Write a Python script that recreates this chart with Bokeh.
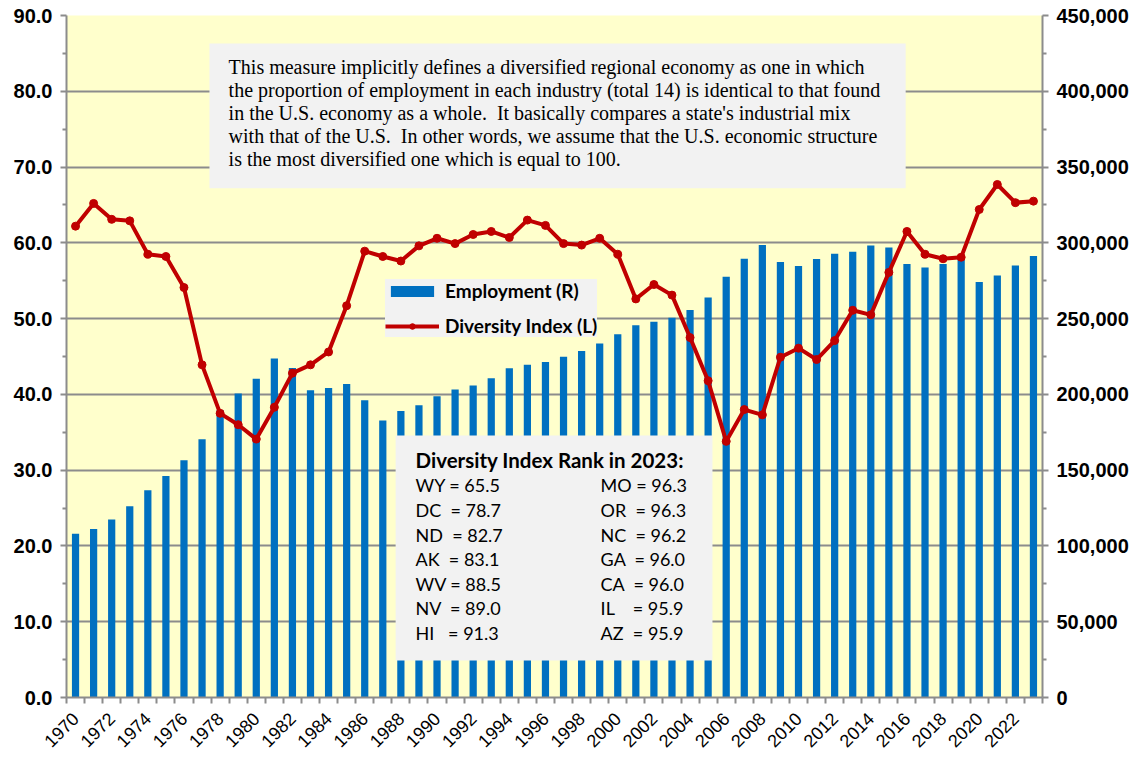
import math
from bokeh.plotting import figure
from bokeh.models import (Range1d, LinearAxis, FixedTicker, NumeralTickFormatter,
                          BoxAnnotation, Label, Legend, LegendItem, ColumnDataSource)
from bokeh.embed import file_html
from bokeh.resources import INLINE

# ---------------- data ----------------
years = list(range(1970, 2024))
employment = [108100, 111200, 117400, 126200, 136800, 146200, 156600, 170400, 189600, 200600,
              210400, 223600, 217400, 202700, 204200, 206800, 196200, 182800, 189100, 192900,
              198800, 203200, 205900, 210700, 217300, 219500, 221300, 224800, 228700, 233600,
              239600, 245700, 247900, 250500, 255600, 264000, 277600, 289500, 298500, 287300,
              284700, 289300, 292800, 294100, 298300, 297000, 286000, 283800, 286000, 290800,
              274100, 278500, 285100, 291300]
diversity = [62.2, 65.2, 63.1, 62.9, 58.5, 58.2, 54.1, 43.9, 37.5, 36.0,
             34.1, 38.3, 42.8, 43.9, 45.6, 51.7, 58.9, 58.2, 57.6, 59.6,
             60.6, 59.9, 61.1, 61.5, 60.7, 63.0, 62.3, 59.9, 59.7, 60.6,
             58.5, 52.6, 54.5, 53.1, 47.5, 41.8, 33.8, 38.0, 37.3, 44.9,
             46.1, 44.6, 47.1, 51.1, 50.5, 56.1, 61.5, 58.5, 57.9, 58.1,
             64.4, 67.7, 65.3, 65.5]
left_ticks = [0, 10, 20, 30, 40, 50, 60, 70, 80, 90]
right_ticks = [0, 50000, 100000, 150000, 200000, 250000, 300000, 350000, 400000, 450000]
label_years = list(range(1970, 2023, 2))

NB = "\u00a0"
note_lines = [
    "This measure implicitly defines a diversified regional economy as one in which",
    "the proportion of employment in each industry (total 14) is identical to that found",
    "in the U.S. economy as a whole." + NB + " It basically compares a state's industrial mix",
    "with that of the U.S." + NB + " In other words, we assume that the U.S. economic structure",
    "is the most diversified one which is equal to 100.",
]
rank_title = "Diversity Index Rank in 2023:"
rank_left_states = ["WY", "DC", "ND", "AK", "WV", "NV", "HI"]
rank_left_values = ["65.5", "78.7", "82.7", "83.1", "88.5", "89.0", "91.3"]
rank_right_states = ["MO", "OR", "NC", "GA", "CA", "IL", "AZ"]
rank_right_values = ["96.3", "96.3", "96.2", "96.0", "96.0", "95.9", "95.9"]
left_pad = [1, 2, 2, 2, 1, 2, 3]
right_pad = [1, 2, 2, 2, 2, 4, 2]

# ---------------- styling ----------------
GRID = "#8C8C8C"
BAR = "#0070C0"
LINE = "#C00000"
BOXBG = "#F2F2F2"

p = figure(width=1140, height=757, output_backend="svg", toolbar_location=None,
           x_range=Range1d(1969.5, 2023.5), y_range=Range1d(0, 90),
           min_border_left=66, min_border_right=98, min_border_top=15, min_border_bottom=60)
p.background_fill_color = "#FFFFCC"
p.border_fill_color = "white"
p.outline_line_color = None
p.extra_y_ranges = {"emp": Range1d(0, 450000)}

src = ColumnDataSource(dict(year=years, emp=employment, div=diversity))
bars = p.vbar(x="year", top="emp", width=0.4, source=src, y_range_name="emp",
              fill_color=BAR, line_color=None)
ln = p.line(x="year", y="div", source=src, line_color=LINE, line_width=4)
pts = p.scatter(x="year", y="div", source=src, size=8, fill_color=LINE, line_color=LINE)

# axes
p.xgrid.visible = False
p.ygrid.grid_line_color = GRID
p.ygrid.grid_line_width = 2

xa = p.xaxis[0]
xa.ticker = FixedTicker(ticks=label_years, minor_ticks=[y - 0.5 for y in years] + [years[-1] + 0.5])
xa.major_label_orientation = math.pi / 4
xa.major_tick_line_color = None
xa.major_tick_out = 6
xa.major_tick_in = 0
xa.minor_tick_out = 6
xa.minor_tick_in = 0
xa.minor_tick_line_color = GRID
xa.minor_tick_line_width = 2
xa.axis_line_color = GRID
xa.axis_line_width = 2
xa.major_label_text_font = "Liberation Sans"
xa.major_label_text_font_size = "18px"
xa.major_label_text_color = "black"
xa.major_label_standoff = 12

ya = p.yaxis[0]
ya.ticker = FixedTicker(ticks=left_ticks, minor_ticks=[t + 5 for t in left_ticks[:-1]])
ya.formatter = NumeralTickFormatter(format="0.0")
ry = LinearAxis(y_range_name="emp",
                ticker=FixedTicker(ticks=right_ticks, minor_ticks=[t + 25000 for t in right_ticks[:-1]]),
                formatter=NumeralTickFormatter(format="0,0"))
p.add_layout(ry, "right")
for a in (ya, ry):
    a.major_tick_out = 6
    a.major_tick_in = 0
    a.minor_tick_out = 4
    a.minor_tick_in = 0
    a.major_tick_line_color = GRID
    a.minor_tick_line_color = GRID
    a.major_tick_line_width = 2
    a.minor_tick_line_width = 2
    a.axis_line_color = GRID
    a.axis_line_width = 2
    a.major_label_text_font = "Liberation Sans"
    a.major_label_text_font_style = "bold"
    a.major_label_text_font_size = "20px"
    a.major_label_text_color = "black"
    a.major_label_standoff = 8

# legend
legend = Legend(items=[LegendItem(label="Employment (R)", renderers=[bars]),
                       LegendItem(label="Diversity Index (L)", renderers=[ln, pts])],
                location=(319, 360), orientation="vertical",
                background_fill_color=BOXBG, background_fill_alpha=1,
                border_line_color=None, label_text_font="Lato", label_text_font_style="bold",
                label_text_font_size="19px", label_text_color="black",
                glyph_width=54, glyph_height=14, label_height=20, label_standoff=6,
                spacing=12, padding=12, margin=0)
p.add_layout(legend)

# note box
p.add_layout(BoxAnnotation(left=1977.41, right=2015.93, top=86.3, bottom=67.2,
                           fill_color=BOXBG, fill_alpha=1, line_color=None))
for i, t in enumerate(note_lines):
    p.add_layout(Label(x=1978.47, y=83.2 - i * 3.04, text=t, text_font="Liberation Serif",
                       text_font_size="20px", text_color="black", text_baseline="middle",
                       text_align="left"))

# rank box
p.add_layout(BoxAnnotation(left=1987.71, right=2005.24, top=34.57, bottom=4.88,
                           fill_color=BOXBG, fill_alpha=1, line_color=None))
p.add_layout(Label(x=1988.81, y=31.37, text=rank_title, text_font="Lato", text_font_style="bold",
                   text_font_size="20.5px", text_color="black", text_baseline="middle"))
for i in range(len(rank_left_states)):
    yv = 27.98 - i * 3.24
    t1 = rank_left_states[i] + NB * left_pad[i] + "= " + rank_left_values[i]
    t2 = rank_right_states[i] + NB * right_pad[i] + "= " + rank_right_values[i]
    p.add_layout(Label(x=1988.81, y=yv, text=t1, text_font="Lato", text_font_size="18px",
                       text_color="black", text_baseline="middle"))
    p.add_layout(Label(x=1999.05, y=yv, text=t2, text_font="Lato", text_font_size="18px",
                       text_color="black", text_baseline="middle"))

open("out.html", "w").write(file_html(p, INLINE))
